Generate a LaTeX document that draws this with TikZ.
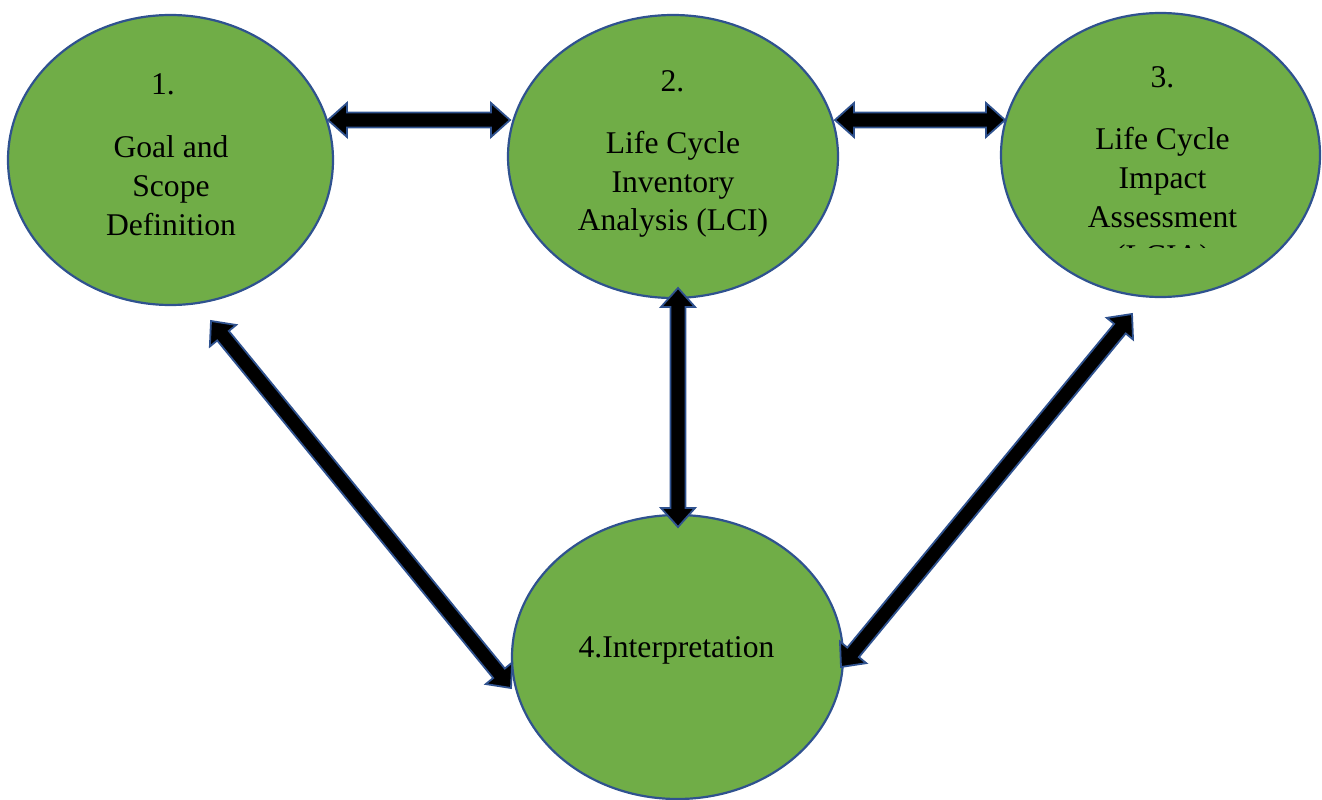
\documentclass[tikz,border=0pt]{standalone}
\usepackage{fontspec}
\setmainfont{Liberation Serif}
\usetikzlibrary{calc,shapes.geometric}
\definecolor{stagegreen}{HTML}{70AD47}
\definecolor{edgeblue}{HTML}{2F528F}

\tikzset{
  stage/.style={ellipse, draw=edgeblue, line width=2.2pt, fill=stagegreen, inner sep=0pt},
  lbl/.style={anchor=base, inner sep=0pt, font=\fontsize{31.6}{40}\selectfont},
  blockarrow/.style={draw=edgeblue, fill=black, line width=1.8pt, line join=miter},
}

% double-headed block arrow between two named points
\newcommand\dblblockarrow[2]{%
  \draw[blockarrow] (#1)
    -- ($(#1)!19pt!(#2)!17pt!90:(#2)$)
    -- ($(#1)!19pt!(#2)!7.5pt!90:(#2)$)
    -- ($(#2)!19pt!(#1)!7.5pt!-90:(#1)$)
    -- ($(#2)!19pt!(#1)!17pt!-90:(#1)$)
    -- (#2)
    -- ($(#2)!19pt!(#1)!17pt!90:(#1)$)
    -- ($(#2)!19pt!(#1)!7.5pt!90:(#1)$)
    -- ($(#1)!19pt!(#2)!7.5pt!-90:(#2)$)
    -- ($(#1)!19pt!(#2)!17pt!-90:(#2)$)
    -- cycle;}

\begin{document}
\begin{tikzpicture}[x=1pt,y=1pt]
\useasboundingbox (0,0) rectangle (1322,-800);

% stages
\node[stage, minimum width=325, minimum height=290] (s1) at (170.5,-160) {};
\node[stage, minimum width=330, minimum height=283] (s2) at (673,-156.5) {};
\node[stage, minimum width=319, minimum height=284] (s3) at (1160.5,-155) {};
\node[stage, minimum width=331, minimum height=284] (s4) at (677.5,-657) {};

% stage texts
\node[lbl] (l1a) at (163,-95) {1.};
\node[lbl] (l1b) at (171,-157) {Goal and};
\node[lbl] (l1c) at (171,-196.5) {Scope};
\node[lbl] (l1d) at (171,-235) {Definition};

\node[lbl] (l2a) at (672.5,-92) {2.};
\node[lbl] (l2b) at (673,-153) {Life Cycle};
\node[lbl] (l2c) at (673,-192) {Inventory};
\node[lbl] (l2d) at (673,-230.5) {Analysis (LCI)};

\node[lbl] (l3a) at (1162.5,-88) {3.};
\node[lbl] (l3b) at (1162.5,-149) {Life Cycle};
\node[lbl] (l3c) at (1162.5,-188) {Impact};
\node[lbl] (l3d) at (1162.5,-227) {Assessment};
% last line cut off by the text box
\begin{scope}
  \clip (1000,-247) rectangle (1322,-235);
  \node[lbl] (l3e) at (1162.5,-266) {(LCIA)};
\end{scope}

\node[lbl] (l4a) at (676.5,-657) {4.Interpretation};

% arrow end points on the stage borders
\coordinate (a12) at (328,-120);
\coordinate (b12) at (510,-120);
\coordinate (a23) at (835,-120);
\coordinate (b23) at (1005,-120);
\coordinate (a24) at (678,-288);
\coordinate (b24) at (678,-527);
\coordinate (a14) at (211,-321);
\coordinate (b14) at (511,-688);
\coordinate (a34) at (1132,-314);
\coordinate (b34) at (841,-667);

\dblblockarrow{a12}{b12}
\dblblockarrow{a23}{b23}
\dblblockarrow{a24}{b24}
\dblblockarrow{a14}{b14}
\dblblockarrow{a34}{b34}
\end{tikzpicture}
\end{document}
